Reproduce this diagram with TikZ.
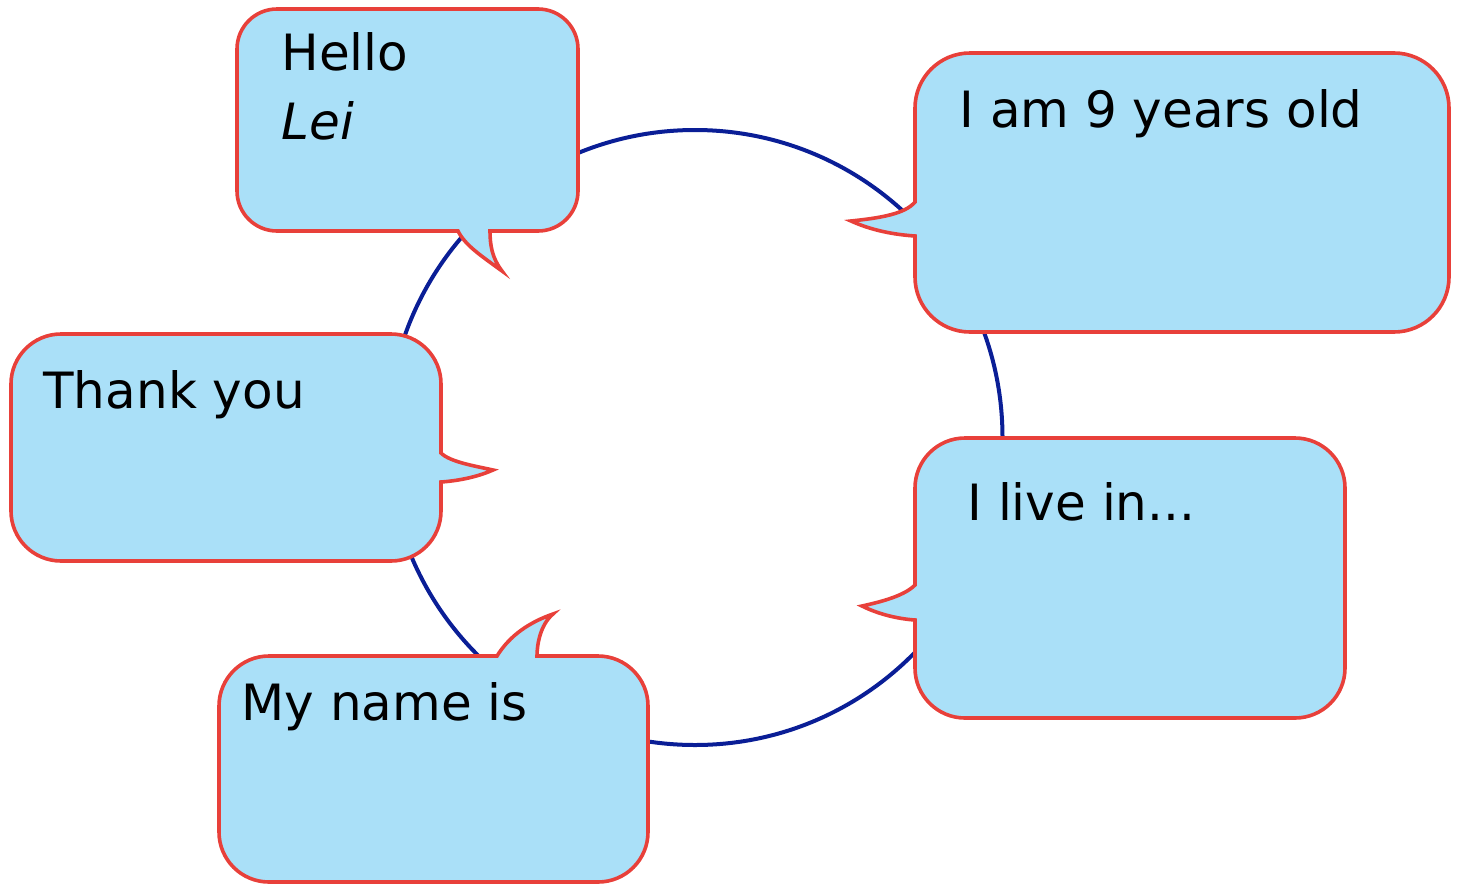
\documentclass[tikz,border=0pt]{standalone}
\usepackage{fontspec}
\setmainfont{DejaVu Sans}
\definecolor{bubfill}{HTML}{AAE0F8}
\definecolor{bubline}{HTML}{E8403A}
\definecolor{ringc}{HTML}{0A1E96}
\tikzset{
  bub/.style={draw=bubline, fill=bubfill, line width=1.8pt, line join=miter},
  ring/.style={draw=ringc, line width=2pt},
  txt/.style={anchor=base west, inner sep=0pt, font=\fontsize{25}{30}\selectfont}
}
\begin{document}
\begin{tikzpicture}[x=0.5pt,y=-0.5pt]
\useasboundingbox (0,0) rectangle (1461,884);
% ring
\coordinate (c) at (695,437.5);
\draw[ring] (c) circle[radius=153.75pt];
% bubble 1: Hello Lei
\draw[bub] (458,231) -- (277,231) arc(270:180:20pt) -- (237,49) arc(180:90:20pt)
  -- (538,9) arc(90:0:20pt) -- (578,191) arc(0:-90:20pt) -- (490,231)
  .. controls (490,245) and (492,258) .. (502,271)
  .. controls (480,255) and (465,245) .. cycle;
% bubble 2: I am 9 years old
\draw[bub] (915,236) -- (915,277) arc(180:270:27.5pt) -- (1394,332) arc(270:360:27.5pt)
  -- (1449,108) arc(0:90:27.5pt) -- (970,53) arc(90:180:27.5pt) -- (915,202)
  .. controls (905,214) and (880,218) .. (851,221)
  .. controls (875,232) and (900,235) .. cycle;
% bubble 3: Thank you
\draw[bub] (441,482) -- (441,511) arc(0:-90:25pt) -- (61,561) arc(270:180:25pt)
  -- (11,384) arc(180:90:25pt) -- (391,334) arc(90:0:25pt) -- (441,453)
  .. controls (450,462) and (475,466) .. (493,470)
  .. controls (475,478) and (455,481) .. cycle;
% bubble 4: I live in...
\draw[bub] (915,620) -- (915,668) arc(180:270:25pt) -- (1295,718) arc(270:360:25pt)
  -- (1345,488) arc(0:90:25pt) -- (965,438) arc(90:180:25pt) -- (915,585)
  .. controls (905,595) and (885,601) .. (862,606)
  .. controls (880,615) and (900,619) .. cycle;
% bubble 5: My name is
\draw[bub] (537,656) -- (598,656) arc(90:0:25pt) -- (648,832) arc(0:-90:25pt)
  -- (269,882) arc(270:180:25pt) -- (219,706) arc(180:90:25pt) -- (497,656)
  .. controls (510,635) and (530,622) .. (553,614)
  .. controls (540,625) and (537,645) .. cycle;
% texts
\node[txt] (hello) at (281,70) {Hello};
\node[txt] (lei) at (281,139) {\itshape Lei};
\node[txt] (age) at (959,127) {I am 9 years old};
\node[txt] (thanks) at (43,408) {Thank you};
\node[txt] (live) at (967,520) {I live in...};
\node[txt] (name) at (241,720) {My name is};
\end{tikzpicture}
\end{document}
